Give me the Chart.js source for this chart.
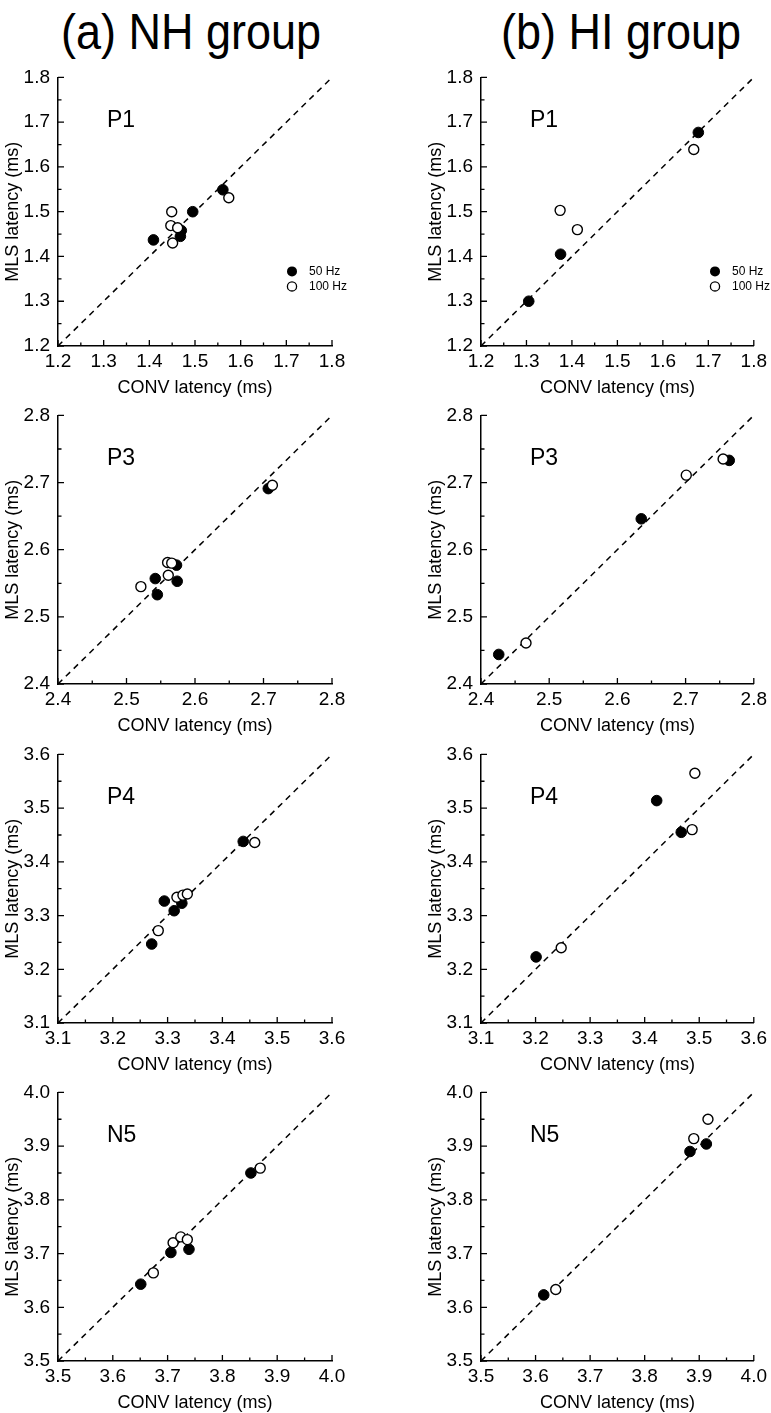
<!DOCTYPE html>
<html>
<head>
<meta charset="utf-8">
<script src="https://cdn.jsdelivr.net/npm/chart.js@4.4.0/dist/chart.umd.min.js"></script>
<style>
  body { margin: 0; background: #fff; width: 771px; height: 1413px; position: relative; overflow: hidden; }
  .head { position: absolute; top: 7px; width: 400px; text-align: center; font: 50px/50px "Liberation Sans", Arial, sans-serif; color: #000; transform: scaleX(0.9); transform-origin: center; }
  canvas { position: absolute; }
</style>
</head>
<body>
<div class="head" style="left:-9px">(a) NH group</div>
<div class="head" style="left:421px">(b) HI group</div>

<script>
// [CONV, MLS] latency pairs (ms)
const nhP1_50 = [[1.409, 1.437], [1.468, 1.445], [1.470, 1.458], [1.495, 1.500], [1.561, 1.549]];
const nhP1_100 = [[1.449, 1.500], [1.447, 1.469], [1.462, 1.464], [1.451, 1.430], [1.574, 1.531]];
const hiP1_50 = [[1.305, 1.300], [1.375, 1.405], [1.678, 1.677]];
const hiP1_100 = [[1.374, 1.503], [1.412, 1.460], [1.668, 1.639]];

const nhP3_50 = [[2.542, 2.557], [2.545, 2.533], [2.573, 2.577], [2.574, 2.553], [2.707, 2.691]];
const nhP3_100 = [[2.521, 2.545], [2.560, 2.581], [2.566, 2.580], [2.561, 2.562], [2.713, 2.696]];
const hiP3_50 = [[2.426, 2.444], [2.635, 2.646], [2.764, 2.733]];
const hiP3_100 = [[2.466, 2.461], [2.701, 2.711], [2.755, 2.735]];

const nhP4_50 = [[3.271, 3.247], [3.294, 3.327], [3.312, 3.309], [3.326, 3.323], [3.438, 3.438]];
const nhP4_100 = [[3.283, 3.272], [3.317, 3.334], [3.328, 3.338], [3.336, 3.340], [3.459, 3.436]];
const hiP4_50 = [[3.201, 3.223], [3.422, 3.514], [3.467, 3.455]];
const hiP4_100 = [[3.247, 3.240], [3.487, 3.460], [3.492, 3.565]];

const nhN5_50 = [[3.651, 3.643], [3.706, 3.702], [3.739, 3.708], [3.852, 3.850]];
const nhN5_100 = [[3.674, 3.664], [3.710, 3.720], [3.724, 3.731], [3.736, 3.726], [3.869, 3.859]];
const hiN5_50 = [[3.615, 3.623], [3.883, 3.890], [3.913, 3.904]];
const hiN5_100 = [[3.637, 3.633], [3.890, 3.914], [3.916, 3.950]];

const peaks = ["P1", "P3", "P4", "N5"];
const axisRanges = [[1.2, 1.8], [2.4, 2.8], [3.1, 3.6], [3.5, 4.0]];
const nhSets = [[nhP1_50, nhP1_100], [nhP3_50, nhP3_100], [nhP4_50, nhP4_100], [nhN5_50, nhN5_100]];
const hiSets = [[hiP1_50, hiP1_100], [hiP3_50, hiP3_100], [hiP4_50, hiP4_100], [hiN5_50, hiN5_100]];
const legendLabels = ["50 Hz", "100 Hz"];

const FONT = '"Liberation Sans", Arial, sans-serif';
const rowTops = [72, 410, 749, 1087];
const PLOT = 274, PAD_TOP = 14, X_H = 57, Y_W = 58;

// inward ticks, panel name, legend
const extras = {
  id: "extras",
  afterDraw(chart, args, opts) {
    const ctx = chart.ctx;
    const { left, top, bottom } = chart.chartArea;
    const xs = chart.scales.x, ys = chart.scales.y;
    const [lo, hi] = opts.range;
    ctx.save();
    ctx.strokeStyle = "#000";
    ctx.lineWidth = 1.3;
    const n = Math.round((hi - lo) / 0.05);
    for (let k = 0; k <= n; k++) {
      const v = lo + k * 0.05;
      const len = k % 2 === 0 ? 6 : 3.5;
      const px = xs.getPixelForValue(v), py = ys.getPixelForValue(v);
      ctx.beginPath();
      ctx.moveTo(px, bottom); ctx.lineTo(px, bottom - len);
      ctx.moveTo(left, py); ctx.lineTo(left + len, py);
      ctx.stroke();
    }
    ctx.fillStyle = "#000";
    ctx.textBaseline = "middle";
    ctx.font = "23px " + FONT;
    ctx.fillText(opts.label, left + 49, top + 43);
    if (opts.legend) {
      ctx.font = "12px " + FONT;
      ctx.beginPath();
      ctx.arc(left + 234, top + 194, 5, 0, Math.PI * 2);
      ctx.fill();
      ctx.beginPath();
      ctx.arc(left + 234, top + 209, 4.6, 0, Math.PI * 2);
      ctx.fillStyle = "#fff"; ctx.fill();
      ctx.stroke();
      ctx.fillStyle = "#000";
      ctx.fillText(legendLabels[0], left + 251, top + 194);
      ctx.fillText(legendLabels[1], left + 251, top + 209);
    }
    ctx.restore();
  }
};

function toPts(arr) {
  return arr.map(p => ({ x: p[0], y: p[1] }));
}

function makePanel(col, row) {
  const sets = col === 0 ? nhSets[row] : hiSets[row];
  const range = axisRanges[row];
  const cx = col === 0 ? 0 : 423;
  const cw = col === 0 ? 385 : 348;
  const ch = PAD_TOP + PLOT + X_H;
  const cv = document.createElement("canvas");
  cv.width = cw; cv.height = ch;
  cv.style.left = cx + "px";
  cv.style.top = (rowTops[row] - PAD_TOP) + "px";
  cv.style.width = cw + "px"; cv.style.height = ch + "px";
  document.body.appendChild(cv);

  const tickFont = { family: FONT, size: 19 };
  const titleFont = { family: FONT, size: 18 };
  const scaleBase = {
    type: "linear",
    min: range[0],
    max: range[1],
    grid: { display: false, drawTicks: false },
    border: { display: true, color: "#000", width: 1.5 },
    ticks: {
      stepSize: 0.1, autoSkip: false, maxRotation: 0, color: "#000", font: tickFont,
      callback: v => v.toFixed(1)
    }
  };

  new Chart(cv, {
    type: "scatter",
    data: {
      datasets: [
        {
          type: "line",
          data: [{ x: range[0], y: range[0] }, { x: range[1], y: range[1] }],
          borderColor: "#000", borderWidth: 1.5, borderDash: [6, 5],
          pointRadius: 0, fill: false, order: 3
        },
        {
          data: toPts(sets[0]),
          backgroundColor: "#000", borderColor: "#000", borderWidth: 1,
          pointRadius: 5.3, order: 2
        },
        {
          data: toPts(sets[1]),
          backgroundColor: "#fff", borderColor: "#000", borderWidth: 1.4,
          pointRadius: 5, order: 1
        }
      ]
    },
    options: {
      responsive: false,
      animation: false,
      clip: false,
      layout: { padding: { top: PAD_TOP, right: cw - Y_W - PLOT, left: 0, bottom: 0 } },
      plugins: {
        legend: { display: false },
        tooltip: { enabled: false },
        extras: { range: range, label: peaks[row], legend: row === 0 }
      },
      scales: {
        x: Object.assign({}, scaleBase, {
          position: "bottom",
          ticks: Object.assign({}, scaleBase.ticks, { padding: 4 }),
          title: { display: true, text: "CONV latency (ms)", color: "#000", font: titleFont, padding: { top: 4, bottom: 4 } },
          afterFit: s => { s.height = X_H; }
        }),
        y: Object.assign({}, scaleBase, {
          position: "left",
          ticks: Object.assign({}, scaleBase.ticks, { padding: 8 }),
          title: { display: true, text: "MLS latency (ms)", color: "#000", font: titleFont, padding: { top: 2, bottom: 2 } },
          afterFit: s => { s.width = Y_W; }
        })
      }
    },
    plugins: [extras]
  });
}

for (let r = 0; r < 4; r++) {
  makePanel(0, r);
  makePanel(1, r);
}
</script>
</body>
</html>
